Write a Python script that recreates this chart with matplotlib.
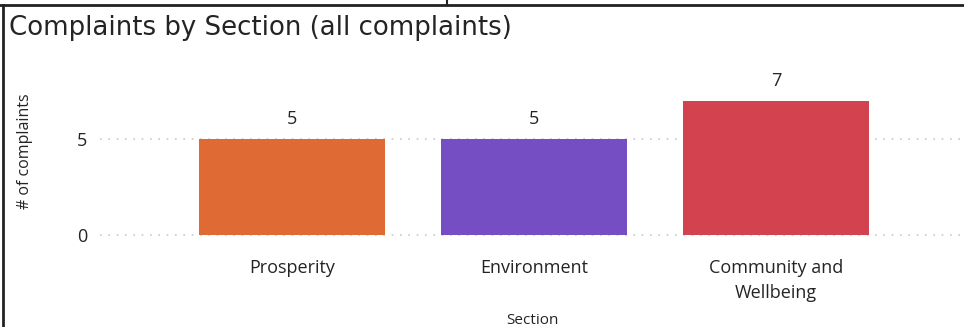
import matplotlib.pyplot as plt
from matplotlib.lines import Line2D

# Data
sections = ['Prosperity', 'Environment', 'Community and\nWellbeing']
complaints = [5, 5, 7]
bar_colors = ['#E06A33', '#744EC2', '#D3434F']
y_ticks = [0, 5]

body_font = 'Open Sans'
txt = '#252423'

W, H = 964, 327
fig = plt.figure(figsize=(W / 100, H / 100), dpi=100)

# axes placed in pixel terms: x 100..964, y(0) at 235, 19.1 px per unit
ylo, yhi = -0.1, 8.0
unit = 19.1
bottom_px = 235 + (0 - ylo) * unit
top_px = 235 - yhi * unit
ax = fig.add_axes([100 / W, 1 - bottom_px / H, 864 / W, (bottom_px - top_px) / H])

x = range(len(sections))
bars = ax.bar(x, complaints, width=0.77, color=bar_colors, zorder=2)

ax.set_ylim(ylo, yhi)
ax.set_xlim(-0.793, 2.777)
ax.set_yticks(y_ticks)
ax.set_yticklabels([str(t) for t in y_ticks], fontsize=13, color=txt, family=body_font)
ax.set_xticks(list(x))
ax.set_xticklabels(sections, fontsize=13, color=txt, family=body_font, linespacing=1.5)
ax.tick_params(length=0)
ax.tick_params(axis='y', pad=9)
ax.tick_params(axis='x', pad=16)

for t in y_ticks:
    ax.axhline(t, color='#C8C8C8', linestyle=(0, (1, 4)), linewidth=1.2, zorder=1)

for s in ax.spines.values():
    s.set_visible(False)

for b, v in zip(bars, complaints):
    ax.annotate(str(v), (b.get_x() + b.get_width() / 2, v), xytext=(0, 8),
                textcoords='offset points', ha='center', va='bottom',
                fontsize=13, color=txt, family=body_font)

ax.set_xlabel('Section', fontsize=11, color=txt, family=body_font, labelpad=8)
fig.text(25 / W, 1 - 151 / H, '# of complaints', rotation=90, ha='center', va='center',
         fontsize=11.5, color=txt, family=body_font)

fig.text(9 / W, 1 - 28 / H, 'Complaints by Section (all complaints)', ha='left', va='center',
         fontsize=18.7, color=txt, family='DejaVu Sans')

# report frame borders
fig.add_artist(Line2D([0, 1], [1 - 5 / H, 1 - 5 / H], color='#222222', linewidth=2))
fig.add_artist(Line2D([447 / W, 447 / W], [1, 1 - 5 / H], color='#222222', linewidth=1.5))
fig.add_artist(Line2D([3 / W, 3 / W], [1 - 5 / H, 0], color='#222222', linewidth=2))

fig.savefig('out.png', dpi=100)
